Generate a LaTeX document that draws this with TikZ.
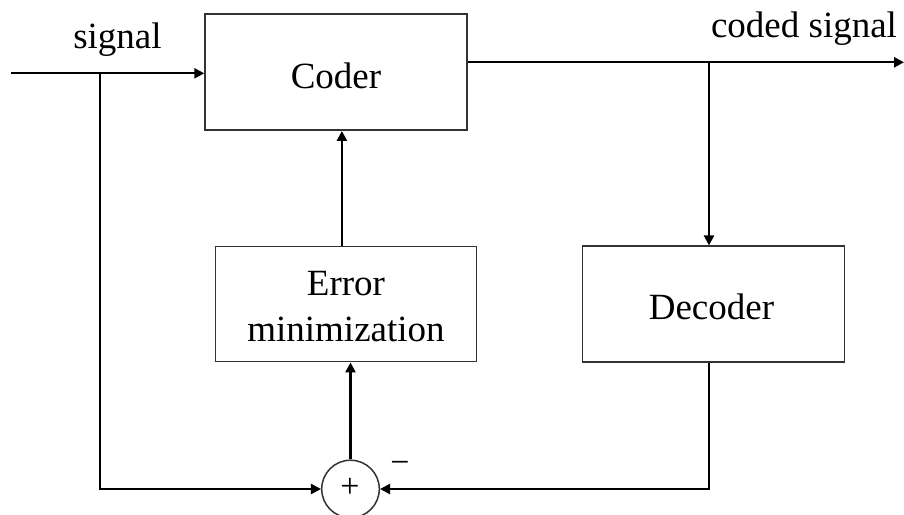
\documentclass[tikz,border=0pt]{standalone}
\usepackage{fontspec}
\setmainfont{Liberation Serif}
\usetikzlibrary{arrows.meta}
\begin{document}
\begin{tikzpicture}[x=1pt,y=-1pt,
  block/.style={draw=black!80,line width=1.5pt,inner sep=0pt},
  lab/.style={font=\fontsize{37}{40}\selectfont,inner sep=0pt,anchor=base},
  wire/.style={line width=2.3pt},
  arr/.style={wire,-{Triangle[length=10pt,width=10pt]}}]
\useasboundingbox (0,0) rectangle (904,514);
% blocks
\node[block,minimum width=262pt,minimum height=116pt] (coder) at (336,72.2) {};
\node[block,minimum width=261pt,minimum height=115pt] (err) at (346.2,304.2) {};
\node[block,minimum width=261.6pt,minimum height=116pt] (dec) at (713.5,304.2) {};
\node[draw=black!80,line width=1.5pt,circle,minimum size=57.6pt,inner sep=0pt] (sum) at (350.5,489) {};
% texts
\node[lab] (tcoder) at (336,88) {Coder};
\node[lab] (terr1) at (346,295) {Error};
\node[lab] (terr2) at (346,341.5) {minimization};
\node[lab] (tdec) at (711.5,319) {Decoder};
\node[lab] (tsig) at (117.5,48) {signal};
\node[lab] (tout) at (804,37.5) {coded signal};
\node[font=\fontsize{34}{36}\selectfont,inner sep=0pt] (tplus) at (350,488) {+};
\node[font=\fontsize{34}{36}\selectfont,inner sep=0pt] (tminus) at (400,467) {−};
% junction points
\coordinate (sin) at (11,73.3);
\coordinate (sb) at (100,73.3);
\coordinate (out) at (904,62.3);
\coordinate (ob) at (709,62.3);
% connectors
\draw[arr] (sin) -- (sin -| coder.west);
\draw[arr] (sb) |- (sum.west);
\draw[arr] (out -| coder.east) -- (out);
\draw[arr] (ob) -- (ob |- dec.north);
\draw[arr] (ob |- dec.south) |- (sum.east);
\draw[arr] (sum.north) -- (sum.north |- err.south);
\draw[arr] ([xshift=-4.3pt]err.north) -- ([xshift=-4.3pt]err.north |- coder.south);
\end{tikzpicture}
\end{document}
